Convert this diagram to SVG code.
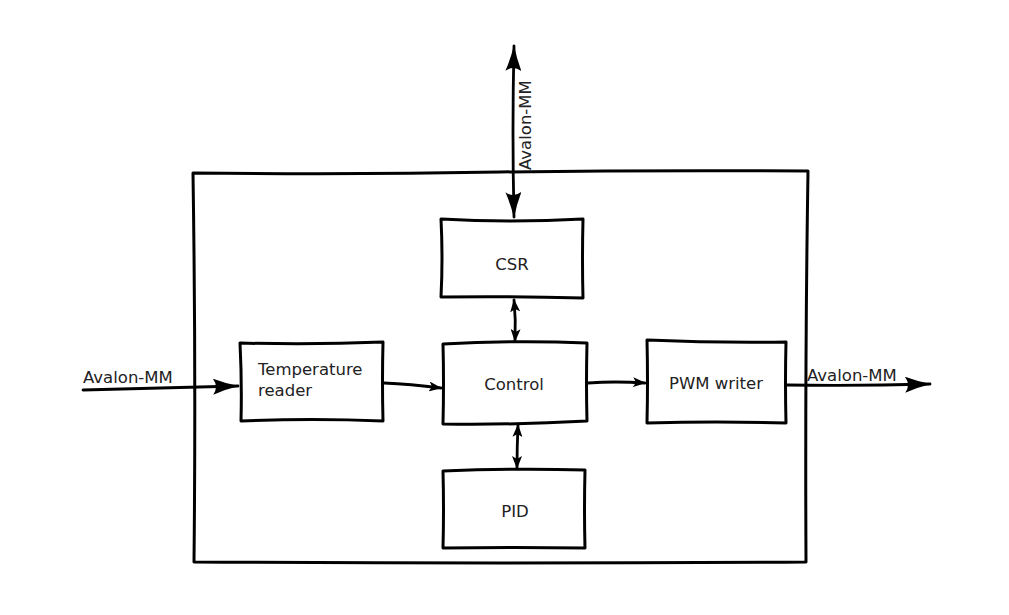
<svg xmlns="http://www.w3.org/2000/svg" width="1009" height="615" viewBox="0 0 1009 615">
<defs>
<style>
.box{fill:#fff;stroke:#000;stroke-width:3;stroke-linejoin:round}
.ln{fill:none;stroke:#000;stroke-width:2.8;stroke-linecap:round}
.t{font-family:"DejaVu Sans",Verdana,sans-serif;font-size:16.5px;fill:#222}
</style>
<marker id="ah" viewBox="0 0 26 16" refX="25" refY="8" markerWidth="26" markerHeight="16" markerUnits="userSpaceOnUse" orient="auto-start-reverse">
<path d="M0,0 Q12,5 26,8 Q12,11 0,16 Q6,8 0,0 Z" fill="#000"/>
</marker>
<marker id="as" viewBox="0 0 13 10" refX="12" refY="5" markerWidth="13" markerHeight="10" markerUnits="userSpaceOnUse" orient="auto-start-reverse">
<path d="M0,0 L13,5 L0,10 L3,5 Z" fill="#000"/>
</marker>
</defs>
<rect width="1009" height="615" fill="#fff"/>
<g id="outer">
<path class="box" d="M193,173 Q350,175 500,172 Q650,170 808,171 Q805,360 806,562 Q500,564 194,562 Q196,370 193,173 Z"/>
</g>
<g id="csr">
<path class="box" d="M441,219 Q510,223 583,219 Q582,260 583,298 Q510,296 441,297 Q443,258 441,219 Z"/>
<text class="t" x="512" y="270" text-anchor="middle">CSR</text>
</g>
<g id="control">
<path class="box" d="M443,344 Q515,340 587,343 Q586,383 587,421 Q515,425 443,424 Q444,383 443,344 Z"/>
<text class="t" x="514" y="390" text-anchor="middle">Control</text>
</g>
<g id="pid">
<path class="box" d="M443,471 Q515,468 585,470 Q584,510 585,548 Q515,547 443,548 Q444,510 443,471 Z"/>
<text class="t" x="515" y="517" text-anchor="middle">PID</text>
</g>
<g id="temperature-reader">
<path class="box" d="M240,343 Q312,345 383,342 Q382,382 383,421 Q312,418 241,421 Q242,382 240,343 Z"/>
<text class="t" x="258" y="375">Temperature</text>
<text class="t" x="258" y="396">reader</text>
</g>
<g id="pwm-writer">
<path class="box" d="M647,340 Q717,343 786,342 Q785,382 786,423 Q717,421 647,423 Q648,382 647,340 Z"/>
<text class="t" x="716" y="389" text-anchor="middle">PWM writer</text>
</g>
<g id="connectors">
<path class="ln" d="M83,390 Q160,388 238,386" marker-end="url(#ah)"/>
<text class="t" x="83" y="383">Avalon-MM</text>
<path class="ln" d="M384,383 Q410,384 441,388" marker-end="url(#as)"/>
<path class="ln" d="M588,383 Q615,381 645,383" marker-end="url(#as)"/>
<path class="ln" d="M787,385 Q860,386 930,384" marker-end="url(#ah)"/>
<text class="t" x="807" y="381">Avalon-MM</text>
<path class="ln" d="M514,46 Q512,130 514,217" marker-start="url(#ah)" marker-end="url(#ah)"/>
<text class="t" transform="translate(531,170) rotate(-90)">Avalon-MM</text>
<path class="ln" d="M514,300 Q516,320 515,341" marker-start="url(#as)" marker-end="url(#as)"/>
<path class="ln" d="M518,425 Q517,447 517,468" marker-start="url(#as)" marker-end="url(#as)"/>
</g>
</svg>
